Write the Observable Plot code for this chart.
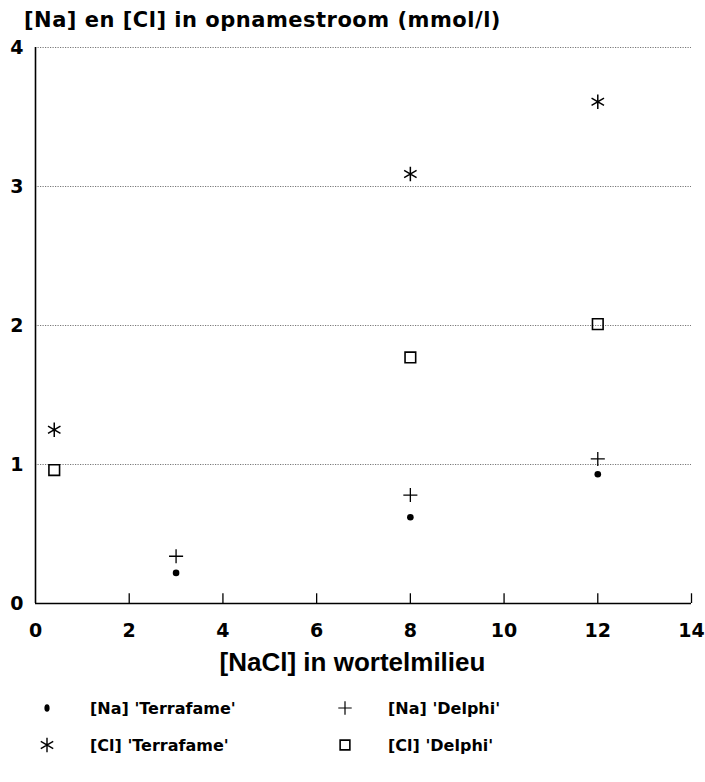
<!DOCTYPE html>
<html>
<head>
<meta charset="utf-8">
<script src="https://cdn.jsdelivr.net/npm/d3@7"></script>
<script src="https://cdn.jsdelivr.net/npm/@observablehq/plot@0.6"></script>
<style>
  html, body { margin: 0; padding: 0; background: #fff; }
  body { width: 705px; font-family: "DejaVu Sans", "Liberation Sans", Arial, sans-serif; color: #000; }
  #title { height: 37px; box-sizing: border-box; padding-left: 24px; padding-top: 9px; font-size: 21px; letter-spacing: 0.5px; font-weight: bold; line-height: 22px; white-space: nowrap; }
  #xlabel { text-align: center; font-family: "Liberation Sans", Arial, sans-serif; font-size: 26px; font-weight: bold; line-height: 30px; height: 40px; margin-top: 2px; }
  #legend { position: relative; height: 100px; }
  .item { position: absolute; display: flex; align-items: center; font-size: 16px; font-weight: bold; white-space: nowrap; }
  .item svg { display: block; }
</style>
</head>
<body>
<div id="title"></div>
<div id="chart"></div>
<div id="xlabel"></div>
<div id="legend"></div>
<script>
// ---- data ----
const titleText = "[Na] en [Cl] in opnamestroom (mmol/l)";
const xLabelText = "[NaCl] in wortelmilieu";
const xTicks = [0, 2, 4, 6, 8, 10, 12, 14];
const yTicks = [0, 1, 2, 3, 4];
const seriesNames = ["[Na] 'Terrafame'", "[Na] 'Delphi'", "[Cl] 'Terrafame'", "[Cl] 'Delphi'"];
const naTerrafameX = [3, 8, 12];
const naTerrafameY = [0.22, 0.62, 0.93];
const naDelphiX = [3, 8, 12];
const naDelphiY = [0.34, 0.78, 1.04];
const clTerrafameX = [0.4, 8, 12];
const clTerrafameY = [1.25, 3.09, 3.61];
const clDelphiX = [0.4, 8, 12];
const clDelphiY = [0.96, 1.77, 2.01];

const toRows = (xs, ys) => xs.map((x, i) => ({x, y: ys[i]}));
const naT = toRows(naTerrafameX, naTerrafameY);
const naD = toRows(naDelphiX, naDelphiY);
const clT = toRows(clTerrafameX, clTerrafameY);
const clD = toRows(clDelphiX, clDelphiY);

document.getElementById("title").textContent = titleText;
document.getElementById("xlabel").textContent = xLabelText;

const font = "DejaVu Sans, Liberation Sans, Arial, sans-serif";
const chart = Plot.plot({
  width: 705,
  height: 608,
  marginLeft: 35,
  marginRight: 14,
  marginTop: 10,
  marginBottom: 42,
  style: {fontFamily: font, background: "#fff", color: "#000"},
  x: {domain: [0, 14], ticks: xTicks},
  y: {domain: [0, 4], ticks: yTicks},
  marks: [
    Plot.ruleY(yTicks.filter(d => d > 0), {x1: 0, x2: 14, stroke: "#777", strokeDasharray: "1.2,1.3", strokeWidth: 1}),
    Plot.ruleY([0], {x1: 0, x2: 14, stroke: "#000", strokeWidth: 1.6}),
    Plot.ruleX([0], {y1: 0, y2: 4, stroke: "#000", strokeWidth: 1.6}),
    Plot.ruleX(xTicks.filter(d => d > 0), {y1: 0, y2: 0.07, stroke: "#000", strokeWidth: 1.3}),
    Plot.axisX({ticks: xTicks, tickSize: 0, tickPadding: 20, fontSize: 19, fontWeight: "bold", tickFormat: d3.format("d"), label: null}),
    Plot.axisY({ticks: yTicks, tickSize: 0, tickPadding: 12, fontSize: 19, fontWeight: "bold", tickFormat: d3.format("d"), label: null}),
    Plot.dot(naT, {x: "x", y: "y", r: 3.3, fill: "#000", stroke: "none"}),
    Plot.dot(naD, {x: "x", y: "y", symbol: "plus", r: 4.6, stroke: "#000", strokeWidth: 1.3}),
    Plot.dot(clT, {x: "x", y: "y", symbol: "asterisk", r: 6.8, stroke: "#000", strokeWidth: 1.5}),
    Plot.dot(clD, {x: "x", y: "y", symbol: "square", r: 6.0, fill: "none", stroke: "#000", strokeWidth: 1.6})
  ]
});
document.getElementById("chart").appendChild(chart);

// ---- legend ----
const legend = document.getElementById("legend");
const legendSymbols = [
  {sym: null, r: 3, fill: true},
  {sym: d3.symbolPlus, r: 4.4, fill: false, sw: 1.2},
  {sym: d3.symbolAsterisk, r: 6.8, fill: false, sw: 1.4},
  {sym: d3.symbolSquare, r: 5.5, fill: false, sw: 1.6}
];
const legendPos = [[30, 21], [328, 21], [30, 58], [328, 58]];
seriesNames.forEach((name, i) => {
  const div = document.createElement("div");
  div.className = "item";
  div.style.left = legendPos[i][0] + "px";
  div.style.top = (legendPos[i][1] - 12) + "px";
  const s = legendSymbols[i];
  const svg = d3.create("svg").attr("width", 34).attr("height", 24);
  if (s.sym === null) {
    svg.append("ellipse").attr("cx", 17).attr("cy", 12).attr("rx", 2.6).attr("ry", 3.8).attr("fill", "#000");
  } else {
    svg.append("path").attr("transform", "translate(17,12)")
      .attr("d", d3.symbol(s.sym, Math.PI * s.r * s.r)())
      .attr("fill", "none").attr("stroke", "#000").attr("stroke-width", s.sw);
  }
  div.appendChild(svg.node());
  const span = document.createElement("span");
  span.style.marginLeft = "26px";
  span.textContent = name;
  div.appendChild(span);
  legend.appendChild(div);
});
</script>
</body>
</html>
